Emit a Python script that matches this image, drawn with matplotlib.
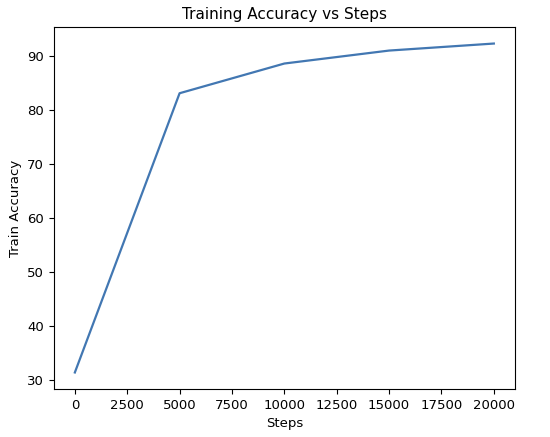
import matplotlib
matplotlib.use('Agg')
from matplotlib import pyplot as plt

steps = [0, 5000, 10000, 15000, 20000]
train_acc = [31.4, 83.1, 88.6, 91.0, 92.3]

fig, ax = plt.subplots(figsize=(5.5, 4.37), dpi=100)
ax.plot(steps, train_acc, color='#4277b2', linewidth=1.6)

ax.set_title('Training Accuracy vs Steps', fontsize=11)
ax.set_xlabel('Steps', fontsize=9.5)
ax.set_ylabel('Train Accuracy', fontsize=9.5)
ax.tick_params(labelsize=9.5)
ax.set_xticks([0, 2500, 5000, 7500, 10000, 12500, 15000, 17500, 20000])

fig.subplots_adjust(left=0.098, right=0.936, top=0.938, bottom=0.11)
plt.savefig('out.png', dpi=100)
